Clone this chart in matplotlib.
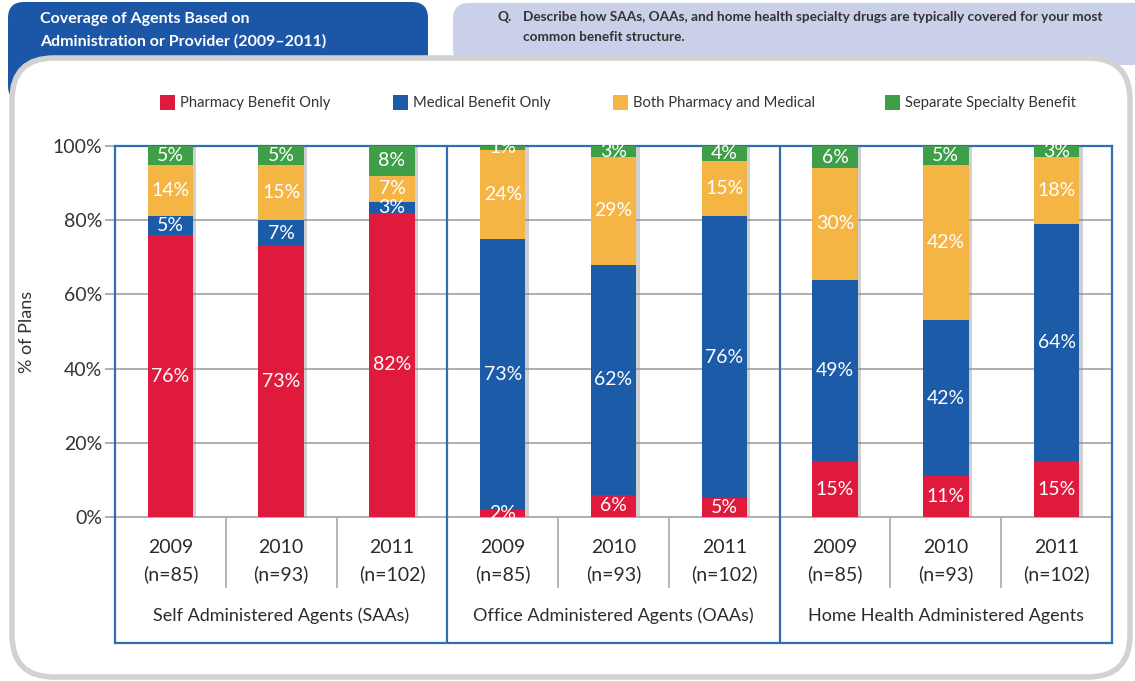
import matplotlib
matplotlib.use("Agg")
import matplotlib.pyplot as plt
from matplotlib.patches import FancyBboxPatch, Rectangle
import numpy as np

plt.rcParams['font.family'] = ['Lato', 'DejaVu Sans']

# data (% of plans)
groups = ['Self Administered Agents (SAAs)', 'Office Administered Agents (OAAs)',
          'Home Health Administered Agents']
years = ['2009', '2010', '2011']
n_labels = ['(n=85)', '(n=93)', '(n=102)']
series = ['Pharmacy Benefit Only', 'Medical Benefit Only',
          'Both Pharmacy and Medical', 'Separate Specialty Benefit']
pharmacy = [76, 73, 82, 2, 6, 5, 15, 11, 15]
medical = [5, 7, 3, 73, 62, 76, 49, 42, 64]
both = [14, 15, 7, 24, 29, 15, 30, 42, 18]
separate = [5, 5, 8, 1, 3, 4, 6, 5, 3]
colors = ['#E01A3C', '#1B5BA7', '#F5B544', '#3F9F49']

W, H = 1135, 681
fig = plt.figure(figsize=(W / 100, H / 100), dpi=100)
fig.patch.set_facecolor('white')

# background decoration in pixel coordinates
bg = fig.add_axes([0, 0, 1, 1], zorder=0)
bg.set_xlim(0, W)
bg.set_ylim(H, 0)
bg.axis('off')
bg.add_patch(FancyBboxPatch((8, 2), 420, 100, boxstyle='round,pad=0,rounding_size=16',
                            fc='#1B57A6', ec='none'))
bg.add_patch(FancyBboxPatch((453, 3), 720, 62, boxstyle='round,pad=0,rounding_size=16',
                            fc='#CBD0EA', ec='none'))
bg.add_patch(FancyBboxPatch((12, 58), 1118, 619, boxstyle='round,pad=0,rounding_size=42',
                            fc='white', ec='#D2D2D2', lw=4))
bg.text(40, 19, 'Coverage of Agents Based on', color='white', fontsize=11.5,
        fontweight='bold', va='center', ha='left')
bg.text(40, 41, 'Administration or Provider (2009\u20132011)', color='white', fontsize=11.5,
        fontweight='bold', va='center', ha='left')
bg.text(497, 17, 'Q.', color='#333333', fontsize=9.8, fontweight='bold', va='center')
bg.text(523, 17, 'Describe how SAAs, OAAs, and home health specialty drugs are typically covered for your most',
        color='#333333', fontsize=9.8, fontweight='bold', va='center')
bg.text(523, 37, 'common benefit structure.', color='#333333', fontsize=9.8,
        fontweight='bold', va='center')

# legend
leg_x = [160, 393, 613, 885]
for lx, c, s in zip(leg_x, colors, series):
    bg.add_patch(Rectangle((lx, 95), 15, 15, fc=c, ec='none'))
    bg.text(lx + 20, 103, s, fontsize=10.6, color='#333333', va='center', ha='left')

# main plot
left, right = 115 / W, 1112 / W
ax = fig.add_axes([left, 1 - 517 / H, right - left, (517 - 146) / H], zorder=2)
ax.set_facecolor('none')
x = np.arange(9)
bw = 0.41
stack = [pharmacy, medical, both, separate]
bottom = np.zeros(9)
# shadow
ax.bar(x + 0.03, 100, bw, color='#8a8a8a', alpha=0.4, zorder=2, lw=0)
for vals, c in zip(stack, colors):
    vals = np.array(vals)
    ax.bar(x, vals, bw, bottom=bottom, color=c, zorder=3, lw=0)
    for xi, v, b in zip(x, vals, bottom):
        ax.text(xi, b + v / 2, f'{v}%', color='white', fontsize=14,
                ha='center', va='center', zorder=4)
    bottom += vals

ax.set_xlim(-0.5, 8.5)
ax.set_ylim(0, 100)
ax.set_yticks([0, 20, 40, 60, 80, 100])
ax.set_yticklabels([f'{t}%' for t in [0, 20, 40, 60, 80, 100]], fontsize=14, color='#333333')
ax.set_xticks([])
ax.tick_params(axis='y', length=7, color='#A0A0A0', width=1.2, pad=2)
for yv in [20, 40, 60, 80]:
    ax.axhline(yv, color='#A8A8A8', lw=1.3, zorder=1)
for s in ['left', 'right', 'top']:
    ax.spines[s].set_color('#2F6DB5')
    ax.spines[s].set_linewidth(1.6)
ax.spines['bottom'].set_color('#A8A8A8')
ax.spines['bottom'].set_linewidth(1.3)
for xv in [2.5, 5.5]:
    ax.axvline(xv, color='#2F6DB5', lw=1.6, zorder=5)
ax.set_ylabel('% of Plans', fontsize=13, color='#333333')
ax.yaxis.set_label_coords(-0.08, 0.5)

# category table below
tb = fig.add_axes([left, 1 - 643 / H, right - left, (643 - 517) / H], zorder=2)
tb.set_facecolor('none')
tb.set_xlim(-0.5, 8.5)
tb.set_ylim(0, 1)
tb.set_xticks([])
tb.set_yticks([])
for s in ['left', 'right', 'bottom']:
    tb.spines[s].set_color('#2F6DB5')
    tb.spines[s].set_linewidth(1.6)
tb.spines['top'].set_visible(False)
for xv in [2.5, 5.5]:
    tb.axvline(xv, color='#2F6DB5', lw=1.6)
for xv in [0.5, 1.5, 3.5, 4.5, 6.5, 7.5]:
    tb.plot([xv, xv], [0.444, 1], color='#B0B0B0', lw=1.3)
for i in range(9):
    tb.text(i, 0.754, years[i % 3], fontsize=14, color='#2b2b2b', ha='center', va='center')
    tb.text(i, 0.548, n_labels[i % 3], fontsize=14, color='#2b2b2b', ha='center', va='center')
for g, name in enumerate(groups):
    tb.text(3 * g + 1, 0.214, name, fontsize=13, color='#2b2b2b', ha='center', va='center')

fig.savefig('out.png', dpi=100)
